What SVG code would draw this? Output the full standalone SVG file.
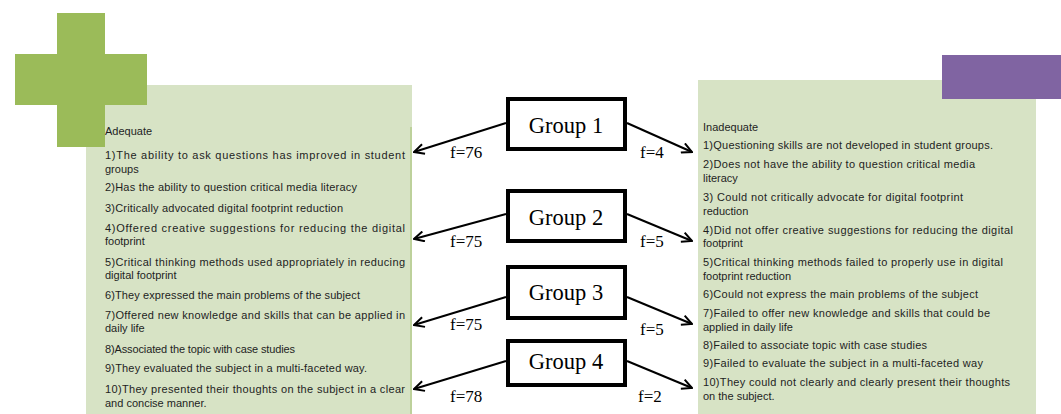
<svg xmlns="http://www.w3.org/2000/svg" width="1061" height="414" viewBox="0 0 1061 414">
<defs>
<style>
.panel{fill:#d7e3c5}
.cross{fill:#9bbb59}
.txt{font-family:"Liberation Sans",Arial,sans-serif;font-size:11px;fill:#1e1e1e}
.gbox{fill:#ffffff;stroke:#000;stroke-width:4}
.glabel{font-family:"Liberation Serif","Times New Roman",serif;font-size:22.5px;fill:#000;text-anchor:middle}
.flabel{font-family:"Liberation Serif","Times New Roman",serif;font-size:17px;fill:#000}
.conn{stroke:#000;stroke-width:2;fill:none;marker-end:url(#arr)}
</style>
<marker id="arr" viewBox="0 0 12 12" refX="11" refY="6" markerWidth="12" markerHeight="12" markerUnits="userSpaceOnUse" orient="auto">
<path d="M1,1 L11,6 L1,11" fill="none" stroke="#000" stroke-width="2"/>
</marker>
</defs>
<rect width="1061" height="414" fill="#ffffff"/>

<g id="left-panel">
<rect class="panel" x="86" y="85" width="326" height="329"/>
<line x1="411" y1="127" x2="411" y2="414" stroke="#b4cb8c" stroke-width="1.5"/>
<rect class="cross" x="57" y="13" width="48" height="134"/>
<rect class="cross" x="15" y="54" width="132" height="51"/>
<text class="txt" x="105" y="135">Adequate</text>
<text class="txt" x="105" y="159" textLength="300" lengthAdjust="spacing">1)The ability to ask questions has improved in student</text>
<text class="txt" x="105" y="173">groups</text>
<text class="txt" x="105" y="191" textLength="252" lengthAdjust="spacing">2)Has the ability to question critical media literacy</text>
<text class="txt" x="105" y="212" textLength="238" lengthAdjust="spacing">3)Critically advocated digital footprint reduction</text>
<text class="txt" x="105" y="232" textLength="300" lengthAdjust="spacing">4)Offered creative suggestions for reducing the digital</text>
<text class="txt" x="105" y="245">footprint</text>
<text class="txt" x="105" y="266" textLength="300" lengthAdjust="spacing">5)Critical thinking methods used appropriately in reducing</text>
<text class="txt" x="105" y="279">digital footprint</text>
<text class="txt" x="105" y="299" textLength="255" lengthAdjust="spacing">6)They expressed the main problems of the subject</text>
<text class="txt" x="105" y="319" textLength="300" lengthAdjust="spacing">7)Offered new knowledge and skills that can be applied in</text>
<text class="txt" x="105" y="332">daily life</text>
<text class="txt" x="105" y="353" textLength="190" lengthAdjust="spacing">8)Associated the topic with case studies</text>
<text class="txt" x="105" y="372" textLength="262" lengthAdjust="spacing">9)They evaluated the subject in a multi-faceted way.</text>
<text class="txt" x="105" y="393" textLength="300" lengthAdjust="spacing">10)They presented their thoughts on the subject in a clear</text>
<text class="txt" x="105" y="407">and concise manner.</text>
</g>

<g id="right-panel">
<rect class="panel" x="698" y="80" width="338" height="334"/>
<rect x="942" y="55" width="119" height="44" fill="#8064a2"/>
<text class="txt" x="703" y="131">Inadequate</text>
<text class="txt" x="703" y="149" textLength="290" lengthAdjust="spacing">1)Questioning skills are not developed in student groups.</text>
<text class="txt" x="703" y="168" textLength="272" lengthAdjust="spacing">2)Does not have the ability to question critical media</text>
<text class="txt" x="703" y="182">literacy</text>
<text class="txt" x="703" y="201" textLength="260" lengthAdjust="spacing">3) Could not critically advocate for digital footprint</text>
<text class="txt" x="703" y="215">reduction</text>
<text class="txt" x="703" y="234" textLength="310" lengthAdjust="spacing">4)Did not offer creative suggestions for reducing the digital</text>
<text class="txt" x="703" y="247">footprint</text>
<text class="txt" x="703" y="266" textLength="300" lengthAdjust="spacing">5)Critical thinking methods failed to properly use in digital</text>
<text class="txt" x="703" y="280">footprint reduction</text>
<text class="txt" x="703" y="298" textLength="275" lengthAdjust="spacing">6)Could not express the main problems of the subject</text>
<text class="txt" x="703" y="317" textLength="287" lengthAdjust="spacing">7)Failed to offer new knowledge and skills that could be</text>
<text class="txt" x="703" y="331">applied in daily life</text>
<text class="txt" x="703" y="349" textLength="224" lengthAdjust="spacing">8)Failed to associate topic with case studies</text>
<text class="txt" x="703" y="367" textLength="280" lengthAdjust="spacing">9)Failed to evaluate the subject in a multi-faceted way</text>
<text class="txt" x="703" y="386" textLength="307" lengthAdjust="spacing">10)They could not clearly and clearly present their thoughts</text>
<text class="txt" x="703" y="400">on the subject.</text>
</g>

<g id="connectors">
<line class="conn" x1="506" y1="123" x2="414" y2="152"/>
<line class="conn" x1="627" y1="123" x2="692" y2="152"/>
<line class="conn" x1="506" y1="214" x2="414" y2="239"/>
<line class="conn" x1="627" y1="214" x2="692" y2="241"/>
<line class="conn" x1="506" y1="297" x2="414" y2="325"/>
<line class="conn" x1="627" y1="297" x2="692" y2="324"/>
<line class="conn" x1="506" y1="361" x2="414" y2="389"/>
<line class="conn" x1="627" y1="361" x2="692" y2="388"/>
<text class="flabel" x="450" y="158">f=76</text>
<text class="flabel" x="640" y="158">f=4</text>
<text class="flabel" x="450" y="247">f=75</text>
<text class="flabel" x="640" y="247">f=5</text>
<text class="flabel" x="450" y="330">f=75</text>
<text class="flabel" x="640" y="335">f=5</text>
<text class="flabel" x="450" y="402">f=78</text>
<text class="flabel" x="638" y="402">f=2</text>
</g>

<g id="group1">
<rect class="gbox" x="508" y="99" width="117" height="50"/>
<text class="glabel" x="566" y="133">Group 1</text>
</g>
<g id="group2">
<rect class="gbox" x="508" y="191" width="117" height="50"/>
<text class="glabel" x="566" y="225">Group 2</text>
</g>
<g id="group3">
<rect class="gbox" x="508" y="267" width="117" height="51"/>
<text class="glabel" x="566" y="300">Group 3</text>
</g>
<g id="group4">
<rect class="gbox" x="508" y="341" width="117" height="44"/>
<text class="glabel" x="566" y="369">Group 4</text>
</g>
</svg>
